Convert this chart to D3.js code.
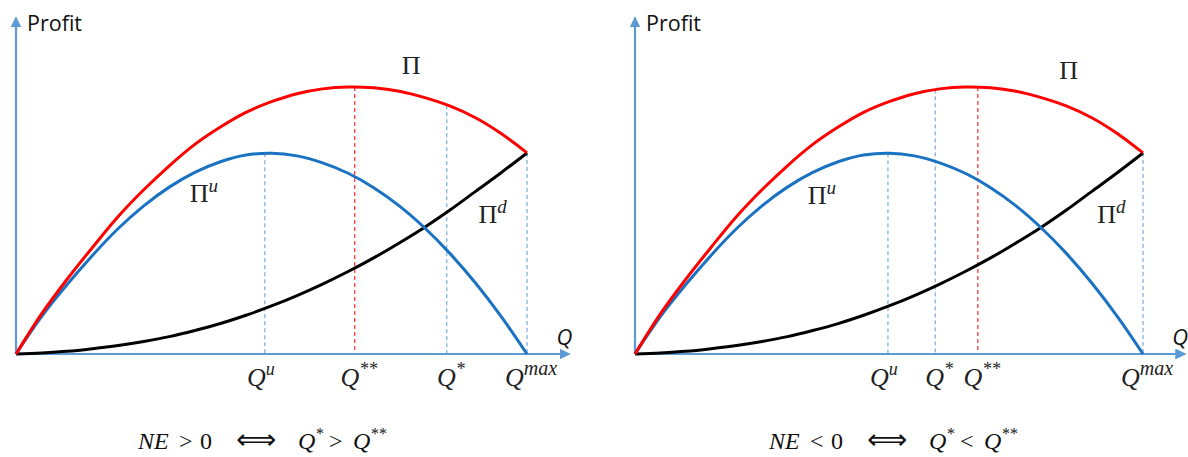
<!DOCTYPE html>
<html>
<head>
<meta charset="utf-8">
<script src="https://cdn.jsdelivr.net/npm/d3@7"></script>
<style>
  body { margin: 0; background: #fff; }
  svg { display: block; }
</style>
</head>
<body>
<svg id="chart" width="1188" height="457"></svg>
<script>
// values: Q in % of Qmax, profit in % of the top of Π
// both panels draw the same three curves, only the marked quantities differ

const curveQ = [0, 5, 10, 15, 20, 25, 30, 35, 40, 45, 50, 55, 60, 65, 70, 75, 80, 85, 90, 95, 100];
const piTotal = [0, 15, 28, 40, 51.5, 61.5, 70.5, 78.5, 85, 90.5, 94.5, 97.5, 99.3, 100, 99.7, 98.4, 96.0, 92.8, 88.4, 82.5, 75.3];
const piUp = [0, 14, 26, 37, 47, 55.5, 62.5, 68, 72, 74.5, 75.2, 74.2, 71.6, 67.7, 62.3, 55.5, 47.2, 37.5, 26.4, 13.9, 0];
const piDown = [0, 0.4, 1.0, 2.0, 3.2, 4.7, 6.5, 8.8, 11.4, 14.5, 18.0, 21.9, 26.2, 30.9, 36.0, 41.6, 47.5, 54.0, 61.0, 68.0, 75.3];

// marked quantities, left panel (NE > 0)
const leftMarkQ = [48.7, 66.3, 84.3, 100];
const leftMarkTop = [75.2, 100, 93.2, 75.3];
const leftMarkSup = ["u", "**", "*", "max"];

// marked quantities, right panel (NE < 0)
const rightMarkQ = [49.8, 59.1, 67.5, 100];
const rightMarkTop = [75.2, 99.1, 100, 75.3];
const rightMarkSup = ["u", "*", "**", "max"];

const axisEnd = [108.3, 126];   // arrow tips, in data units

const AXIS = "#5b9bd5", RED = "#ff0000", BLUE = "#1a72c2", BLACK = "#000";
const SERIF = "'Liberation Serif', 'DejaVu Serif', serif";
const SANS = "'Open Sans', 'Liberation Sans', sans-serif";

const svg = d3.select("#chart");

svg.append("defs").append("marker")
  .attr("id", "arrow")
  .attr("viewBox", "0 0 10 10")
  .attr("refX", 9).attr("refY", 5)
  .attr("markerWidth", 5).attr("markerHeight", 5)
  .attr("orient", "auto")
  .append("path")
  .attr("d", "M0,0 L10,5 L0,10 z")
  .attr("fill", AXIS);

function drawPanel(opt) {
  const x = d3.scaleLinear().domain([0, 100]).range(opt.xr);
  const y = d3.scaleLinear().domain([0, 100]).range([354, 87]);
  const g = svg.append("g");

  // dashed guides + labels under the axis
  opt.markQ.forEach((q, i) => {
    const sup = opt.markSup[i];
    g.append("line")
      .attr("x1", x(q)).attr("x2", x(q))
      .attr("y1", y(opt.markTop[i])).attr("y2", y(0))
      .attr("stroke", sup == "**" ? RED : AXIS)
      .attr("stroke-width", 1)
      .attr("stroke-dasharray", "4,3");

    const t = g.append("text")
      .attr("x", x(q) + (sup == "u" ? -4 : 4))
      .attr("y", 386)
      .attr("text-anchor", "middle")
      .attr("font-family", SERIF)
      .attr("font-style", "italic")
      .attr("font-size", 26)
      .attr("fill", "#222");
    t.append("tspan").text("Q");
    t.append("tspan").attr("dy", -11).attr("font-size", sup.length > 2 ? 20 : 18).text(sup);
  });

  // axes
  g.append("line")
    .attr("x1", x(0)).attr("y1", y(0))
    .attr("x2", x(axisEnd[0])).attr("y2", y(0))
    .attr("stroke", AXIS).attr("stroke-width", 2.2)
    .attr("marker-end", "url(#arrow)");
  g.append("line")
    .attr("x1", x(0)).attr("y1", y(0))
    .attr("x2", x(0)).attr("y2", y(axisEnd[1]))
    .attr("stroke", AXIS).attr("stroke-width", 2.2)
    .attr("marker-end", "url(#arrow)");

  g.append("text")
    .attr("x", x(0) + 11).attr("y", 31)
    .attr("font-family", SANS).attr("font-size", 21.5)
    .attr("fill", "#111")
    .text("Profit");
  g.append("text")
    .attr("x", x(axisEnd[0]) - 13).attr("y", 345)
    .attr("font-family", SANS).attr("font-size", 22)
    .attr("font-style", "italic")
    .attr("fill", "#111")
    .text("Q");

  // curves
  const line = d3.line()
    .x(d => x(d[0])).y(d => y(d[1]))
    .curve(d3.curveCatmullRom.alpha(0.5));
  [[piDown, BLACK], [piUp, BLUE], [piTotal, RED]].forEach(([vals, col]) => {
    g.append("path")
      .datum(curveQ.map((q, i) => [q, vals[i]]))
      .attr("d", line)
      .attr("fill", "none")
      .attr("stroke", col)
      .attr("stroke-width", 3)
      .attr("stroke-linejoin", "round");
  });

  // curve names
  opt.names.forEach(n => {
    const t = g.append("text")
      .attr("x", x(n.q)).attr("y", y(n.p))
      .attr("font-family", SERIF)
      .attr("font-size", 26)
      .attr("fill", "#222");
    t.append("tspan").text("\u03A0");
    if (n.sup) t.append("tspan").attr("dy", -10).attr("font-size", 19).attr("font-style", "italic").text(n.sup);
  });

  // condition under the panel
  const cx = opt.fx;
  const f = g.append("text")
    .attr("y", 449)
    .attr("font-family", SERIF)
    .attr("font-size", 24)
    .attr("fill", "#111");
  f.append("tspan").attr("x", cx - 129).attr("font-style", "italic").text("NE");
  f.append("tspan").attr("x", cx - 88).text(opt.sign);
  f.append("tspan").attr("x", cx - 67).text("0");
  f.append("tspan").attr("x", cx - 31).attr("font-family", "'DejaVu Sans', sans-serif")
    .attr("font-size", 28).text("\u27FA");
  f.append("tspan").attr("x", cx + 31).attr("font-style", "italic").text("Q");
  f.append("tspan").attr("font-style", "italic").attr("font-size", 16).attr("dy", -10).text("*");
  f.append("tspan").attr("x", cx + 62).attr("dy", 10).text(opt.sign);
  f.append("tspan").attr("x", cx + 86).attr("font-style", "italic").text("Q");
  f.append("tspan").attr("font-style", "italic").attr("font-size", 16).attr("dy", -10).text("**");
}

drawPanel({
  xr: [16, 527],
  markQ: leftMarkQ, markTop: leftMarkTop, markSup: leftMarkSup,
  names: [{q: 75.5, p: 105}, {q: 34, p: 57, sup: "u"}, {q: 90.5, p: 49, sup: "d"}],
  fx: 267, sign: ">"
});
drawPanel({
  xr: [635, 1143],
  markQ: rightMarkQ, markTop: rightMarkTop, markSup: rightMarkSup,
  names: [{q: 83.5, p: 103}, {q: 34, p: 56, sup: "u"}, {q: 91, p: 49, sup: "d"}],
  fx: 898, sign: "<"
});
</script>
</body>
</html>
